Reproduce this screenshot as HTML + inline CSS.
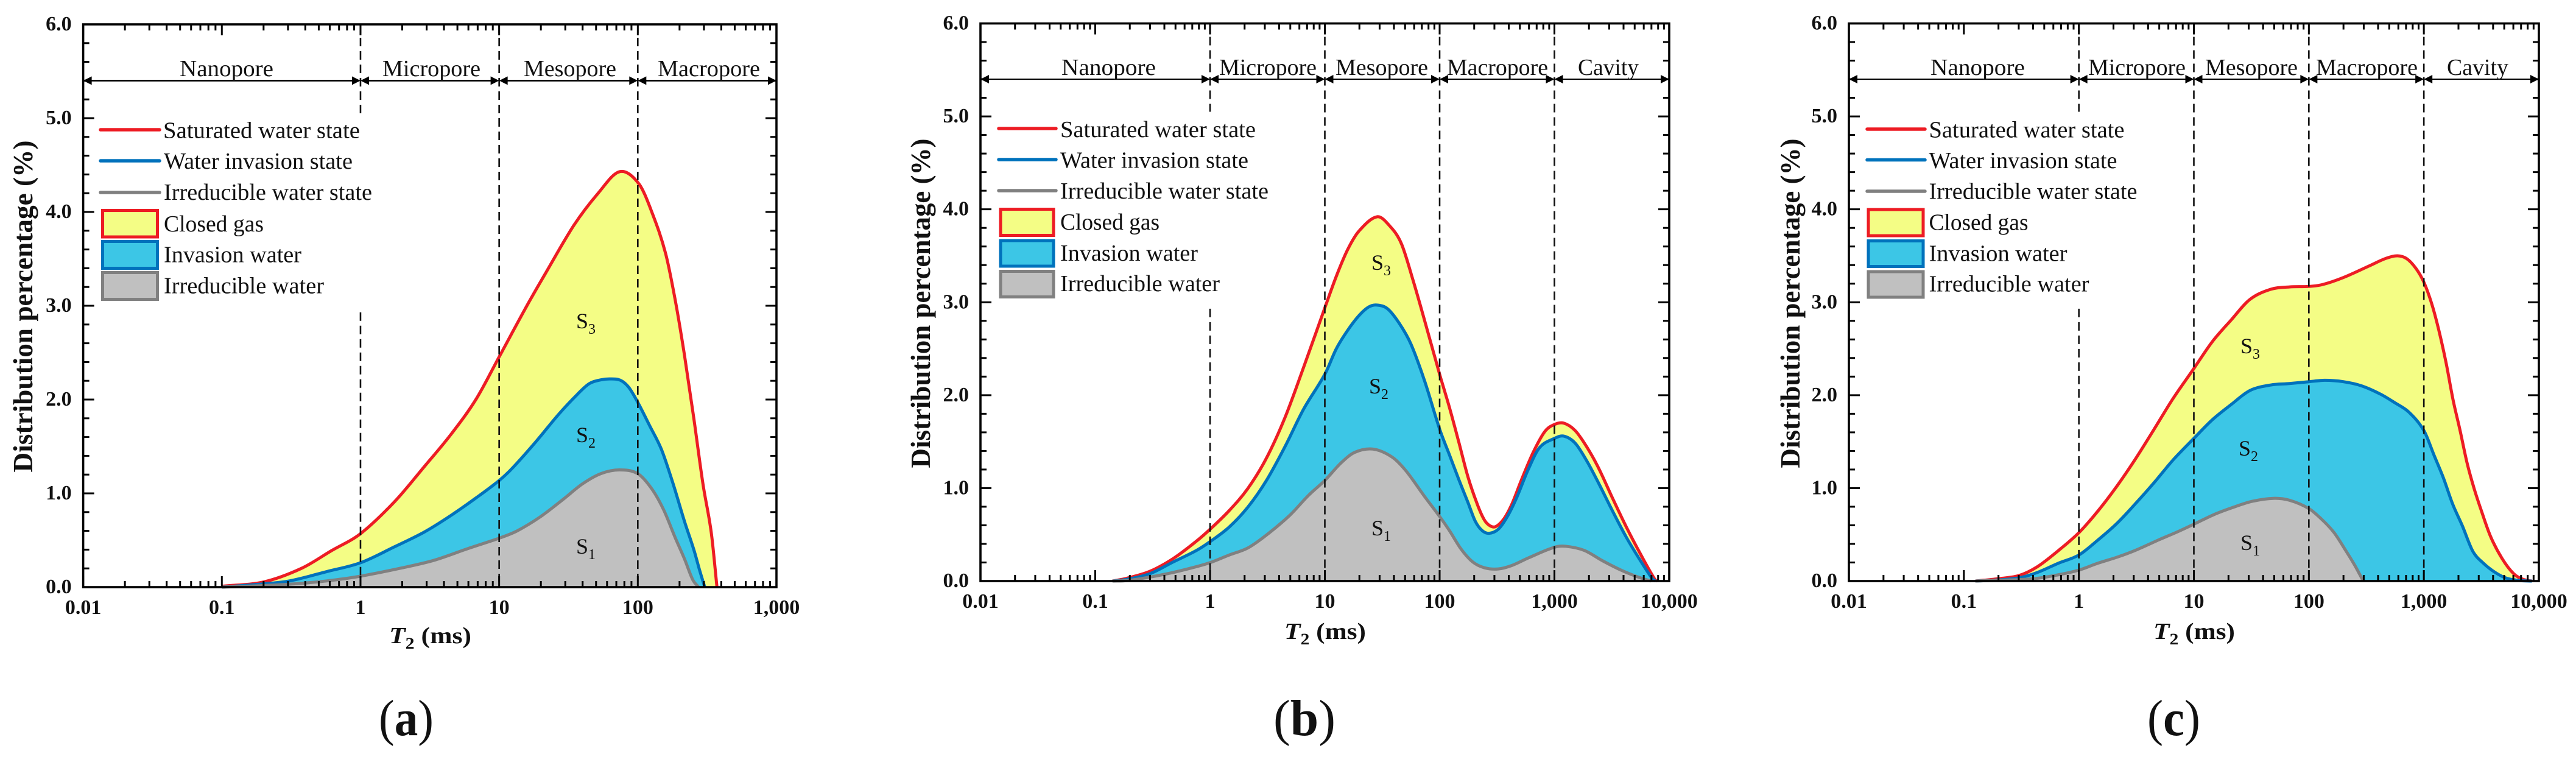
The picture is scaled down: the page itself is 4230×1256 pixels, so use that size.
<!DOCTYPE html>
<html lang="en">
<head>
<meta charset="utf-8">
<title>T2 distribution charts</title>
<style>
html,body{margin:0;padding:0;background:#fff;width:4230px;height:1256px;overflow:hidden}
svg{display:block;font-family:"Liberation Serif",serif;fill:#111}
.lg{font-size:38px}
.rg{font-size:38px}
.s{font-size:36px}
.yt{font-size:46px;font-weight:bold}
.xt{font-size:38px;font-weight:bold}
.tk{font-size:34px;font-weight:bold}
.cap{font-size:84px}
</style>
</head>
<body>
<svg id="figure" xmlns="http://www.w3.org/2000/svg" width="4230" height="1256" viewBox="0 0 4230 1256">
  <rect width="4230" height="1256" fill="#fff"/>

  <!-- PANEL A -->
  <g id="panel-a">
    <g id="a-plot"></g>
    <g>
      <text class="rg" x="295" y="125" textLength="154" lengthAdjust="spacingAndGlyphs">Nanopore</text>
      <text class="rg" x="628" y="125" textLength="161" lengthAdjust="spacingAndGlyphs">Micropore</text>
      <text class="rg" x="860" y="125" textLength="152" lengthAdjust="spacingAndGlyphs">Mesopore</text>
      <text class="rg" x="1080" y="125" textLength="168" lengthAdjust="spacingAndGlyphs">Macropore</text>
    </g>
    <g>
      <line x1="165" x2="262" y1="213" y2="213" stroke="#ed1c24" stroke-width="5.5" stroke-linecap="round"/>
      <line x1="165" x2="262" y1="264" y2="264" stroke="#0072bc" stroke-width="5.5" stroke-linecap="round"/>
      <line x1="165" x2="262" y1="316" y2="316" stroke="#808080" stroke-width="5.5" stroke-linecap="round"/>
      <rect x="168.5" y="345.5" width="90" height="43.5" fill="#f4fd85" stroke="#ed1c24" stroke-width="5"/>
      <rect x="168.5" y="396.5" width="90" height="44" fill="#3cc6e6" stroke="#0072bc" stroke-width="5"/>
      <rect x="168.5" y="447.5" width="90" height="44" fill="#c0c0c0" stroke="#808080" stroke-width="5"/>
      <text class="lg" x="268" y="226.5" textLength="323" lengthAdjust="spacingAndGlyphs">Saturated water state</text>
      <text class="lg" x="269" y="277" textLength="310" lengthAdjust="spacingAndGlyphs">Water invasion state</text>
      <text class="lg" x="269" y="328" textLength="342" lengthAdjust="spacingAndGlyphs">Irreducible water state</text>
      <text class="lg" x="269" y="380" textLength="164" lengthAdjust="spacingAndGlyphs">Closed gas</text>
      <text class="lg" x="269" y="430.5" textLength="226" lengthAdjust="spacingAndGlyphs">Invasion water</text>
      <text class="lg" x="269" y="481.5" textLength="263" lengthAdjust="spacingAndGlyphs">Irreducible water</text>
    </g>
    <text class="s" x="946" y="539">S<tspan dy="9" font-size="24">3</tspan></text>
    <text class="s" x="946" y="726">S<tspan dy="9" font-size="24">2</tspan></text>
    <text class="s" x="946" y="909">S<tspan dy="9" font-size="24">1</tspan></text>
    <text class="yt" transform="translate(53,503) rotate(-90)" text-anchor="middle" textLength="545" lengthAdjust="spacingAndGlyphs">Distribution percentage (%)</text>
    <text class="xt" x="639" y="1056" textLength="135" lengthAdjust="spacingAndGlyphs"><tspan font-style="italic">T</tspan><tspan dy="9" font-size="26">2</tspan><tspan dy="-9"> (ms)</tspan></text>
    <text class="cap" x="622" y="1207" textLength="90" lengthAdjust="spacingAndGlyphs">(<tspan font-weight="bold">a</tspan>)</text>
  </g>

  <!-- PANEL B -->
  <g id="panel-b">
    <g id="b-plot"></g>
    <g>
      <text class="rg" x="1743" y="123" textLength="155" lengthAdjust="spacingAndGlyphs">Nanopore</text>
      <text class="rg" x="2002" y="123" textLength="160" lengthAdjust="spacingAndGlyphs">Micropore</text>
      <text class="rg" x="2193" y="123" textLength="152" lengthAdjust="spacingAndGlyphs">Mesopore</text>
      <text class="rg" x="2376" y="123" textLength="166" lengthAdjust="spacingAndGlyphs">Macropore</text>
      <text class="rg" x="2591" y="123" textLength="100" lengthAdjust="spacingAndGlyphs">Cavity</text>
    </g>
    <g>
      <line x1="1640" x2="1734" y1="211" y2="211" stroke="#ed1c24" stroke-width="5.5" stroke-linecap="round"/>
      <line x1="1640" x2="1734" y1="262" y2="262" stroke="#0072bc" stroke-width="5.5" stroke-linecap="round"/>
      <line x1="1640" x2="1734" y1="313" y2="313" stroke="#808080" stroke-width="5.5" stroke-linecap="round"/>
      <rect x="1643" y="343.5" width="87" height="43" fill="#f4fd85" stroke="#ed1c24" stroke-width="5"/>
      <rect x="1643" y="395" width="87" height="42" fill="#3cc6e6" stroke="#0072bc" stroke-width="5"/>
      <rect x="1643" y="445.5" width="87" height="42" fill="#c0c0c0" stroke="#808080" stroke-width="5"/>
      <text class="lg" x="1741" y="225" textLength="321" lengthAdjust="spacingAndGlyphs">Saturated water state</text>
      <text class="lg" x="1741" y="275.5" textLength="309" lengthAdjust="spacingAndGlyphs">Water invasion state</text>
      <text class="lg" x="1741" y="326" textLength="342" lengthAdjust="spacingAndGlyphs">Irreducible water state</text>
      <text class="lg" x="1741" y="377" textLength="163" lengthAdjust="spacingAndGlyphs">Closed gas</text>
      <text class="lg" x="1741" y="428" textLength="226" lengthAdjust="spacingAndGlyphs">Invasion water</text>
      <text class="lg" x="1741" y="478" textLength="262" lengthAdjust="spacingAndGlyphs">Irreducible water</text>
    </g>
    <text class="s" x="2252" y="443">S<tspan dy="9" font-size="24">3</tspan></text>
    <text class="s" x="2248" y="646">S<tspan dy="9" font-size="24">2</tspan></text>
    <text class="s" x="2252" y="879">S<tspan dy="9" font-size="24">1</tspan></text>
    <text class="yt" transform="translate(1527,498) rotate(-90)" text-anchor="middle" textLength="541" lengthAdjust="spacingAndGlyphs">Distribution percentage (%)</text>
    <text class="xt" x="2109" y="1049" textLength="134" lengthAdjust="spacingAndGlyphs"><tspan font-style="italic">T</tspan><tspan dy="9" font-size="26">2</tspan><tspan dy="-9"> (ms)</tspan></text>
    <text class="cap" x="2091" y="1207" textLength="102" lengthAdjust="spacingAndGlyphs">(<tspan font-weight="bold">b</tspan>)</text>
  </g>

  <!-- PANEL C -->
  <g id="panel-c">
    <g id="c-plot"></g>
    <g>
      <text class="rg" x="3170" y="123" textLength="155" lengthAdjust="spacingAndGlyphs">Nanopore</text>
      <text class="rg" x="3429" y="123" textLength="160" lengthAdjust="spacingAndGlyphs">Micropore</text>
      <text class="rg" x="3621" y="123" textLength="152" lengthAdjust="spacingAndGlyphs">Mesopore</text>
      <text class="rg" x="3803" y="123" textLength="167" lengthAdjust="spacingAndGlyphs">Macropore</text>
      <text class="rg" x="4018" y="123" textLength="101" lengthAdjust="spacingAndGlyphs">Cavity</text>
    </g>
    <g>
      <line x1="3066" x2="3161" y1="212" y2="212" stroke="#ed1c24" stroke-width="5.5" stroke-linecap="round"/>
      <line x1="3066" x2="3161" y1="262.5" y2="262.5" stroke="#0072bc" stroke-width="5.5" stroke-linecap="round"/>
      <line x1="3066" x2="3161" y1="314" y2="314" stroke="#808080" stroke-width="5.5" stroke-linecap="round"/>
      <rect x="3068" y="344" width="90" height="43" fill="#f4fd85" stroke="#ed1c24" stroke-width="5"/>
      <rect x="3068" y="395.5" width="90" height="42" fill="#3cc6e6" stroke="#0072bc" stroke-width="5"/>
      <rect x="3068" y="446" width="90" height="42" fill="#c0c0c0" stroke="#808080" stroke-width="5"/>
      <text class="lg" x="3167.5" y="225.5" textLength="321" lengthAdjust="spacingAndGlyphs">Saturated water state</text>
      <text class="lg" x="3167.5" y="276" textLength="309" lengthAdjust="spacingAndGlyphs">Water invasion state</text>
      <text class="lg" x="3167.5" y="326.5" textLength="342" lengthAdjust="spacingAndGlyphs">Irreducible water state</text>
      <text class="lg" x="3167.5" y="377.5" textLength="163" lengthAdjust="spacingAndGlyphs">Closed gas</text>
      <text class="lg" x="3167.5" y="428.5" textLength="227" lengthAdjust="spacingAndGlyphs">Invasion water</text>
      <text class="lg" x="3167.5" y="478.5" textLength="263" lengthAdjust="spacingAndGlyphs">Irreducible water</text>
    </g>
    <text class="s" x="3679" y="580">S<tspan dy="9" font-size="24">3</tspan></text>
    <text class="s" x="3676" y="748">S<tspan dy="9" font-size="24">2</tspan></text>
    <text class="s" x="3679" y="903">S<tspan dy="9" font-size="24">1</tspan></text>
    <text class="yt" transform="translate(2955,498) rotate(-90)" text-anchor="middle" textLength="541" lengthAdjust="spacingAndGlyphs">Distribution percentage (%)</text>
    <text class="xt" x="3536" y="1049" textLength="134" lengthAdjust="spacingAndGlyphs"><tspan font-style="italic">T</tspan><tspan dy="9" font-size="26">2</tspan><tspan dy="-9"> (ms)</tspan></text>
    <text class="cap" x="3526" y="1207" textLength="87" lengthAdjust="spacingAndGlyphs">(<tspan font-weight="bold">c</tspan>)</text>
  </g>
</svg>

<script>
// ---- Chart data: log10(T2 in ms) and distribution percentage (%) ----
const aRedLogT2   = [-1,-0.7,-0.426,-0.208,0,0.245,0.463,0.648,0.832,1,1.2,1.336,1.54,1.714,1.87,2.008,2.106,2.2,2.27,2.337,2.404,2.47,2.53,2.571];
const aRedValues  = [0.01,0.055,0.2,0.39,0.57,0.91,1.29,1.62,2.0,2.455,3.0,3.35,3.86,4.2,4.43,4.3,3.98,3.56,3.06,2.47,1.8,1.1,0.58,0];
const aBlueLogT2  = [-1,-0.7,-0.51,-0.24,0,0.245,0.463,0.648,0.832,1,1.096,1.263,1.431,1.565,1.65,1.733,1.8,1.874,1.935,2,2.086,2.17,2.253,2.337,2.404,2.446,2.483];
const aBlueValues = [0,0.035,0.067,0.167,0.26,0.43,0.59,0.76,0.95,1.137,1.27,1.547,1.846,2.057,2.17,2.21,2.22,2.206,2.13,1.97,1.72,1.47,1.11,0.7,0.4,0.18,0];
const aGreyLogT2  = [-1,-0.7,-0.476,-0.24,0,0.295,0.53,0.782,1,1.13,1.297,1.465,1.6,1.733,1.867,2,2.1,2.186,2.27,2.337,2.396,2.438];
const aGreyValues = [0,0.017,0.035,0.067,0.117,0.204,0.286,0.415,0.522,0.6,0.75,0.94,1.1,1.21,1.25,1.21,1.05,0.826,0.527,0.3,0.08,0];

const bRedLogT2   = [-0.85,-0.726,-0.523,-0.32,-0.118,0,0.166,0.329,0.49,0.653,0.815,1,1.1,1.2,1.3,1.456,1.566,1.667,1.77,1.87,2,2.085,2.166,2.247,2.33,2.39,2.44,2.49,2.56,2.63,2.71,2.815,2.917,3,3.08,3.18,3.28,3.383,3.505,3.627,3.75,3.874,3.9];
const bRedValues  = [0,0.03,0.105,0.243,0.43,0.557,0.757,0.996,1.32,1.76,2.3,2.94,3.28,3.57,3.77,3.92,3.82,3.63,3.23,2.8,2.225,1.87,1.5,1.12,0.82,0.657,0.594,0.587,0.67,0.83,1.08,1.385,1.61,1.685,1.7,1.62,1.447,1.22,0.895,0.58,0.29,0.02,0];
const bBlueLogT2  = [-0.85,-0.726,-0.523,-0.32,-0.118,0,0.166,0.329,0.49,0.653,0.815,1,1.1,1.2,1.3,1.383,1.454,1.546,1.647,1.75,1.87,2,2.085,2.166,2.247,2.31,2.37,2.43,2.51,2.59,2.67,2.77,2.87,3,3.08,3.18,3.28,3.383,3.505,3.627,3.75,3.85,3.88];
const bBlueValues = [0,0.018,0.08,0.206,0.33,0.424,0.58,0.795,1.08,1.447,1.85,2.225,2.5,2.7,2.86,2.95,2.97,2.93,2.776,2.55,2.15,1.635,1.36,1.096,0.845,0.645,0.544,0.514,0.557,0.695,0.895,1.196,1.435,1.535,1.56,1.485,1.297,1.058,0.757,0.47,0.218,0.03,0];
const bGreyLogT2  = [-0.85,-0.726,-0.523,-0.32,-0.118,0,0.166,0.329,0.49,0.694,0.856,1,1.14,1.26,1.42,1.586,1.708,1.87,2,2.085,2.187,2.288,2.39,2.51,2.63,2.775,3,3.1,3.26,3.42,3.58,3.73,3.84];
const bGreyValues = [0,0.005,0.043,0.093,0.155,0.198,0.28,0.356,0.494,0.707,0.92,1.083,1.27,1.385,1.42,1.334,1.184,0.908,0.695,0.544,0.344,0.206,0.143,0.13,0.168,0.25,0.364,0.374,0.33,0.218,0.118,0.043,0];

const cRedLogT2   = [-0.9,-0.704,-0.52,-0.36,-0.176,0,0.168,0.33,0.49,0.655,0.817,1,1.16,1.325,1.487,1.67,1.83,2,2.118,2.3,2.523,2.665,2.767,2.85,2.93,3,3.07,3.13,3.193,3.254,3.315,3.376,3.437,3.5,3.58,3.68,3.78,3.86,3.94];
const cRedValues  = [0,0.025,0.06,0.155,0.33,0.52,0.757,1.02,1.31,1.635,1.96,2.287,2.575,2.81,3.03,3.14,3.165,3.17,3.19,3.266,3.39,3.47,3.5,3.47,3.366,3.216,2.977,2.7,2.35,1.95,1.62,1.27,0.996,0.757,0.48,0.243,0.08,0.02,0];
const cBlueLogT2  = [-0.9,-0.704,-0.52,-0.36,-0.176,0,0.168,0.33,0.49,0.655,0.817,1,1.16,1.325,1.487,1.67,1.83,2,2.138,2.3,2.46,2.625,2.746,2.868,3,3.09,3.17,3.25,3.335,3.426,3.517,3.62,3.72,3.84,3.94];
const cBlueValues = [0,0.012,0.035,0.093,0.193,0.28,0.444,0.62,0.83,1.06,1.3,1.535,1.735,1.9,2.05,2.11,2.125,2.145,2.16,2.145,2.1,2.01,1.92,1.82,1.62,1.35,1.11,0.83,0.594,0.32,0.193,0.093,0.03,0.005,0];
const cGreyLogT2  = [-0.9,-0.4,-0.176,0,0.168,0.33,0.49,0.696,0.858,1,1.183,1.345,1.507,1.69,1.83,2,2.118,2.22,2.32,2.4,2.473];
const cGreyValues = [0,0.025,0.068,0.118,0.193,0.256,0.33,0.444,0.53,0.612,0.72,0.795,0.858,0.89,0.87,0.78,0.657,0.52,0.33,0.168,0];

// Tick labels
const yTickValues = [0,1,2,3,4,5,6];
const yTickLabels = ['0.0','1.0','2.0','3.0','4.0','5.0','6.0'];
const aXTickExps   = [-2,-1,0,1,2,3];
const aXTickLabels = ['0.01','0.1','1','10','100','1,000'];
const bcXTickExps   = [-2,-1,0,1,2,3,4];
const bcXTickLabels = ['0.01','0.1','1','10','100','1,000','10,000'];

// Pore-size class boundaries (log10 ms)
const aBoundaries  = [-2,0,1,2,3];
const bcBoundaries = [-2,0,1,2,3,4];

const NS = 'http://www.w3.org/2000/svg';
function make(parent, tag, attrs) {
  const n = document.createElementNS(NS, tag);
  for (const k in attrs) n.setAttribute(k, attrs[k]);
  parent.appendChild(n);
  return n;
}

// Smooth cubic segments through the read data points (central-difference tangents)
function curveSegments(px, py) {
  const n = px.length, m = [];
  m.push((py[1] - py[0]) / (px[1] - px[0]));
  for (let i = 1; i < n - 1; i++) m.push((py[i + 1] - py[i - 1]) / (px[i + 1] - px[i - 1]));
  m.push((py[n - 1] - py[n - 2]) / (px[n - 1] - px[n - 2]));
  let s = '';
  for (let i = 0; i < n - 1; i++) {
    const h = (px[i + 1] - px[i]) / 3;
    s += ' C' + (px[i] + h).toFixed(2) + ',' + (py[i] + m[i] * h).toFixed(2) + ' ' +
         (px[i + 1] - h).toFixed(2) + ',' + (py[i + 1] - m[i + 1] * h).toFixed(2) + ' ' +
         px[i + 1].toFixed(2) + ',' + py[i + 1].toFixed(2);
  }
  return s;
}

function drawPanel(p) {
  const g = document.getElementById(p.id);
  const minExp = -2, maxExp = p.xExps[p.xExps.length - 1];
  const xScale = v => p.left + (v - minExp) * (p.right - p.left) / (maxExp - minExp);
  const yScale = v => p.bottom - v * (p.bottom - p.top) / 6;

  // Filled areas then outlines
  p.series.forEach(se => {
    const px = se.x.map(xScale), py = se.y.map(yScale);
    const seg = curveSegments(px, py);
    const area = make(g, 'path', {
      d: 'M' + px[0].toFixed(2) + ',' + p.bottom + ' L' + px[0].toFixed(2) + ',' + py[0].toFixed(2) + seg +
         ' L' + px[px.length - 1].toFixed(2) + ',' + p.bottom + ' Z',
      fill: se.fill, stroke: 'none'
    });
    
    
  });
  p.series.forEach(se => {
    const px = se.x.map(xScale), py = se.y.map(yScale);
    const line = make(g, 'path', {
      d: 'M' + px[0].toFixed(2) + ',' + py[0].toFixed(2) + curveSegments(px, py),
      fill: 'none', stroke: se.stroke, 'stroke-width': 5, 'stroke-linejoin': 'round'
    });
    
    
  });

  // Dashed class boundaries
  p.boundaries.slice(1, -1).forEach((b, i) => {
    const spans = i === 0 ? [[6, 5.05], [2.93, 0]] : [[6, 0]];
    spans.forEach(sp => {
      const dash = make(g, 'line', {
        x1: xScale(b), x2: xScale(b), y1: yScale(sp[0]), y2: yScale(sp[1]),
        stroke: '#111', 'stroke-width': 2.6, 'stroke-dasharray': '14 8'
      });
      
      
    });
  });

  // Double-headed arrows at 5.4 %
  const arrowY = yScale(5.4);
  for (let i = 0; i < p.boundaries.length - 1; i++) {
    const x1 = xScale(p.boundaries[i]), x2 = xScale(p.boundaries[i + 1]);
    const shaft = make(g, 'line', { x1: x1 + 4, x2: x2 - 4, y1: arrowY, y2: arrowY, stroke: '#000', 'stroke-width': p.arrowWidth });
    
    
    const head1 = make(g, 'polygon', { points: x1 + ',' + arrowY + ' ' + (x1 + 14) + ',' + (arrowY - 7) + ' ' + (x1 + 14) + ',' + (arrowY + 7), fill: '#000' });
    
    
    const head2 = make(g, 'polygon', { points: x2 + ',' + arrowY + ' ' + (x2 - 14) + ',' + (arrowY - 7) + ' ' + (x2 - 14) + ',' + (arrowY + 7), fill: '#000' });
    
    
  }

  // X ticks (top and bottom, inward)
  for (let e = minExp; e <= maxExp; e++) {
    for (let k = 1; k <= (e === maxExp ? 1 : 9); k++) {
      const x = xScale(e + Math.log10(k));
      const len = k === 1 ? 18 : 10;
      const bt = make(g, 'line', { x1: x, x2: x, y1: p.bottom, y2: p.bottom - len, stroke: '#000', 'stroke-width': 3 });
      
      
      const tt = make(g, 'line', { x1: x, x2: x, y1: p.top, y2: p.top + len, stroke: '#000', 'stroke-width': 3 });
      
      
    }
  }
  // Y ticks (left and right, inward)
  for (let i = 0; i <= 30; i++) {
    const y = yScale(i / 5);
    const len = i % 5 === 0 ? 18 : 10;
    const lt = make(g, 'line', { x1: p.left, x2: p.left + len, y1: y, y2: y, stroke: '#000', 'stroke-width': 3 });
    
    
    const rt = make(g, 'line', { x1: p.right, x2: p.right - len, y1: y, y2: y, stroke: '#000', 'stroke-width': 3 });
    
    
  }

  // Frame
  const frame = make(g, 'rect', { x: p.left, y: p.top, width: p.right - p.left, height: p.bottom - p.top, fill: 'none', stroke: '#000', 'stroke-width': 3.6 });
  
  

  // Tick labels
  yTickValues.forEach((v, i) => {
    const t = make(g, 'text', { x: p.left - 19, y: yScale(v) + 10, 'text-anchor': 'end', class: 'tk' });
    
    
    t.textContent = yTickLabels[i];
  });
  p.xExps.forEach((e, i) => {
    const t = make(g, 'text', { x: xScale(e), y: p.bottom + 44, 'text-anchor': 'middle', class: 'tk' });
    
    
    t.textContent = p.xLabels[i];
  });
}

drawPanel({
  id: 'a-plot', left: 136.6, right: 1275, top: 40, bottom: 964, arrowWidth: 2.8,
  xExps: aXTickExps, xLabels: aXTickLabels, boundaries: aBoundaries,
  series: [
    { name: 'saturated-water', x: aRedLogT2, y: aRedValues, fill: '#f4fd85', stroke: '#ed1c24' },
    { name: 'water-invasion', x: aBlueLogT2, y: aBlueValues, fill: '#3cc6e6', stroke: '#0072bc' },
    { name: 'irreducible-water', x: aGreyLogT2, y: aGreyValues, fill: '#c0c0c0', stroke: '#808080' }
  ]
});
drawPanel({
  id: 'b-plot', left: 1610, right: 2741, top: 38.5, bottom: 954, arrowWidth: 2.2,
  xExps: bcXTickExps, xLabels: bcXTickLabels, boundaries: bcBoundaries,
  series: [
    { name: 'saturated-water', x: bRedLogT2, y: bRedValues, fill: '#f4fd85', stroke: '#ed1c24' },
    { name: 'water-invasion', x: bBlueLogT2, y: bBlueValues, fill: '#3cc6e6', stroke: '#0072bc' },
    { name: 'irreducible-water', x: bGreyLogT2, y: bGreyValues, fill: '#c0c0c0', stroke: '#808080' }
  ]
});
drawPanel({
  id: 'c-plot', left: 3036, right: 4169, top: 38.5, bottom: 954, arrowWidth: 2.2,
  xExps: bcXTickExps, xLabels: bcXTickLabels, boundaries: bcBoundaries,
  series: [
    { name: 'saturated-water', x: cRedLogT2, y: cRedValues, fill: '#f4fd85', stroke: '#ed1c24' },
    { name: 'water-invasion', x: cBlueLogT2, y: cBlueValues, fill: '#3cc6e6', stroke: '#0072bc' },
    { name: 'irreducible-water', x: cGreyLogT2, y: cGreyValues, fill: '#c0c0c0', stroke: '#808080' }
  ]
});
</script>
</body>
</html>
